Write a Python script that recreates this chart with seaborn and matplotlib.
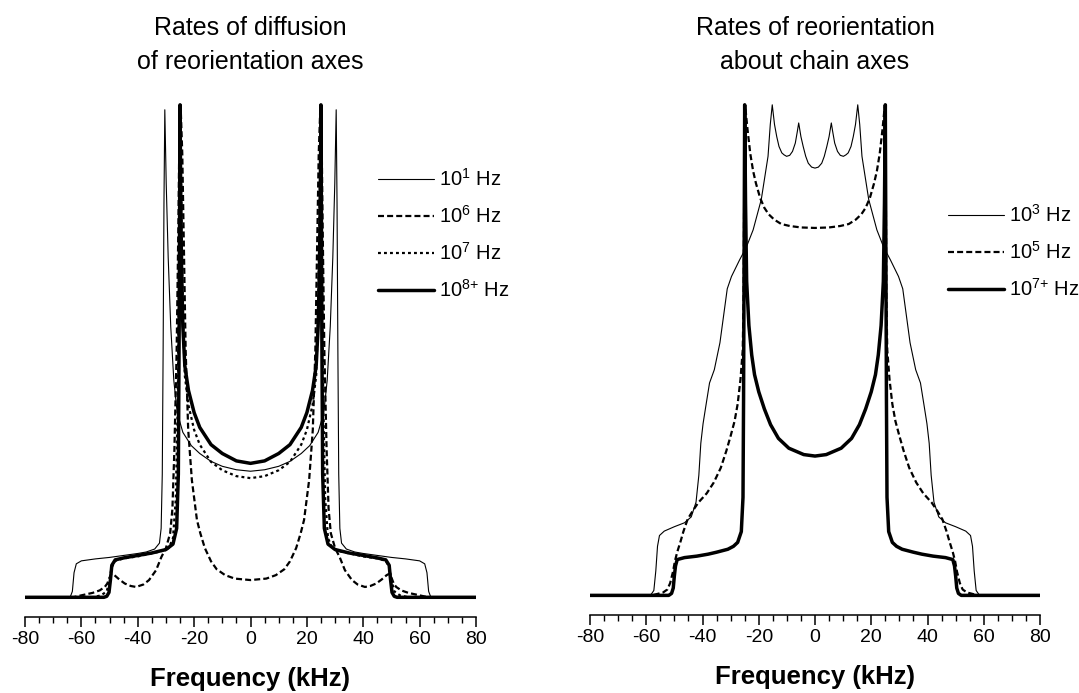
import numpy as np
import pandas as pd
import matplotlib
matplotlib.use('Agg')
import matplotlib.pyplot as plt
from matplotlib.ticker import MultipleLocator
import seaborn as sns

# values; spectra are symmetric, so only the +kHz half is listed
# left panel: diffusion of reorientation axes
diff_freq_1 = [0, 5, 10, 14, 18, 21, 24, 26, 27.2, 28.3, 29.2, 29.9, 30.4, 30.7, 31.0, 31.3, 31.7, 32.3, 34, 37, 40, 45, 50, 55, 60, 61.8, 62.6, 63.2, 64, 80]
diff_int_1 = [0.256, 0.259, 0.266, 0.276, 0.292, 0.308, 0.335, 0.375, 0.44, 0.55, 0.69, 0.84, 0.99, 0.8, 0.5, 0.25, 0.14, 0.11, 0.098, 0.092, 0.089, 0.085, 0.081, 0.078, 0.074, 0.068, 0.05, 0.012, 0.0, 0.0]

diff_freq_6 = [0, 5.6, 9, 12, 14, 16.2, 17.8, 19, 20.8, 22.1, 23, 23.6, 24.2, 24.8, 25.2, 25.6, 26.2, 27, 27.7, 28.5, 30, 31.6, 33.5, 36, 38, 40.6, 42.5, 44.6, 46.5, 48.3, 49.3, 50, 50.8, 51.7, 53.5, 56, 60, 63, 80]
diff_int_6 = [0.035, 0.038, 0.045, 0.057, 0.073, 0.10, 0.13, 0.157, 0.238, 0.34, 0.5, 0.7, 0.9, 1.0, 0.95, 0.75, 0.5, 0.3, 0.18, 0.13, 0.10, 0.082, 0.055, 0.035, 0.026, 0.021, 0.023, 0.028, 0.036, 0.045, 0.048, 0.04, 0.028, 0.021, 0.014, 0.009, 0.004, 0.0, 0.0]

diff_freq_7 = [0, 5, 10, 14, 18, 20, 22, 23.3, 24.0, 24.5, 24.9, 25.3, 25.8, 26.5, 27.5, 29, 32, 36, 40, 45, 48, 49.3, 50, 51, 53, 56, 80]
diff_int_7 = [0.242, 0.246, 0.258, 0.275, 0.31, 0.34, 0.39, 0.45, 0.57, 0.78, 0.96, 0.7, 0.4, 0.2, 0.12, 0.1, 0.093, 0.088, 0.083, 0.079, 0.074, 0.06, 0.035, 0.012, 0.004, 0.0, 0.0]

diff_freq_8 = [0, 5, 10, 14, 18, 20, 22, 23.3, 24.0, 24.5, 24.8, 25.0, 25.3, 25.6, 26.2, 27.5, 30, 35, 40, 45, 48, 49.2, 49.7, 50.2, 51, 52, 80]
diff_int_8 = [0.272, 0.277, 0.292, 0.31, 0.345, 0.375, 0.42, 0.47, 0.55, 0.68, 0.85, 1.0, 0.55, 0.25, 0.14, 0.108, 0.097, 0.09, 0.085, 0.08, 0.076, 0.065, 0.035, 0.01, 0.002, 0.0, 0.0]

# right panel: reorientation about chain axes
chain_freq_3 = [0, 1.2, 2.4, 3.3, 4.2, 5.0, 5.8, 6.3, 7, 8, 9, 10.1, 11, 11.8, 12.8, 13.6, 14.4, 15.2, 15.9, 16.7, 19.1, 22, 24.4, 26.8, 29.7, 31.2, 32.5, 33.8, 35.8, 37.5, 38.7, 39.8, 40.6, 41.3, 42.3, 44, 46.4, 50, 53.6, 55.3, 56, 56.6, 57.3, 58.5, 80]
chain_int_3 = [0.871, 0.873, 0.881, 0.895, 0.915, 0.935, 0.963, 0.945, 0.922, 0.905, 0.897, 0.895, 0.898, 0.902, 0.915, 0.935, 0.96, 1.0, 0.96, 0.895, 0.807, 0.745, 0.71, 0.684, 0.65, 0.625, 0.57, 0.515, 0.46, 0.433, 0.39, 0.35, 0.31, 0.245, 0.19, 0.16, 0.148, 0.14, 0.131, 0.122, 0.1, 0.05, 0.01, 0.0, 0.0]

chain_freq_5 = [0, 5, 9, 12, 14.5, 16.5, 18, 19.5, 21, 22, 23, 24, 24.6, 25, 25.2, 25.4, 25.7, 26.5, 27.5, 28.6, 30, 31.5, 33.5, 36, 38.5, 41.5, 43.5, 45.3, 46.8, 47.8, 49, 49.8, 50.5, 51.5, 52.5, 54, 56, 58, 80]
chain_int_5 = [0.749, 0.75, 0.753, 0.757, 0.766, 0.777, 0.79, 0.81, 0.84, 0.865, 0.9, 0.95, 0.985, 1.0, 0.8, 0.6, 0.5, 0.44, 0.39, 0.355, 0.325, 0.295, 0.26, 0.23, 0.208, 0.189, 0.172, 0.155, 0.13, 0.11, 0.088, 0.07, 0.048, 0.025, 0.012, 0.006, 0.003, 0.0, 0.0]

chain_freq_7 = [0, 4, 9.3, 13, 15.8, 18, 20, 21.5, 22.5, 23.5, 24.3, 24.7, 25, 25.2, 25.4, 25.6, 26.2, 27.5, 29, 31, 35, 38, 42, 46.4, 49, 49.6, 50, 50.4, 51, 52, 80]
chain_int_7 = [0.284, 0.287, 0.30, 0.32, 0.348, 0.38, 0.415, 0.45, 0.49, 0.55, 0.64, 0.8, 1.0, 0.7, 0.4, 0.2, 0.13, 0.108, 0.1, 0.094, 0.088, 0.084, 0.08, 0.077, 0.073, 0.06, 0.04, 0.015, 0.004, 0.0, 0.0]

diff_labels = [r'$10^{1}$ Hz', r'$10^{6}$ Hz', r'$10^{7}$ Hz', r'$10^{8{+}}$ Hz']
chain_labels = [r'$10^{3}$ Hz', r'$10^{5}$ Hz', r'$10^{7{+}}$ Hz']


def mirror(freq, inten):
    f = np.asarray(freq, float)
    i = np.asarray(inten, float)
    return pd.DataFrame({'freq': np.concatenate([-f[:0:-1], f]),
                         'inten': np.concatenate([i[:0:-1], i])})


sns.set_theme(style='ticks', rc={'axes.edgecolor': 'black', 'xtick.color': 'black',
                                 'text.color': 'black', 'axes.labelcolor': 'black'})
plt.rcParams['font.family'] = ['Liberation Sans', 'DejaVu Sans']
plt.rcParams['mathtext.default'] = 'regular'
plt.rcParams['axes.unicode_minus'] = False

thin = dict(color='black', lw=0.8, linestyle='-')
dash = dict(color='black', lw=1.6, linestyle=(0, (2.7, 1.4)))
dots = dict(color='black', lw=1.6, linestyle=(0, (1.3, 1.4)))
thick = dict(color='black', lw=2.5, linestyle='-')

fig = plt.figure(figsize=(10.79, 6.93), dpi=100)
ax1 = fig.add_axes([25 / 1079, 76 / 693, 451 / 1079, 522 / 693])
ax2 = fig.add_axes([590 / 1079, 78 / 693, 450 / 1079, 520 / 693])

left_sets = [(diff_freq_1, diff_int_1, thin), (diff_freq_6, diff_int_6, dash),
             (diff_freq_7, diff_int_7, dots), (diff_freq_8, diff_int_8, thick)]
for (f, i, st), lab in zip(left_sets, diff_labels):
    sns.lineplot(data=mirror(f, i), x='freq', y='inten', ax=ax1, label=lab,
                 sort=False, estimator=None, **st)

right_sets = [(chain_freq_3, chain_int_3, thin), (chain_freq_5, chain_int_5, dash),
              (chain_freq_7, chain_int_7, thick)]
for (f, i, st), lab in zip(right_sets, chain_labels):
    sns.lineplot(data=mirror(f, i), x='freq', y='inten', ax=ax2, label=lab,
                 sort=False, estimator=None, **st)

titles = ['Rates of diffusion\nof reorientation axes', 'Rates of reorientation\nabout chain axes']
legend_pos = [(0.783, 0.86), (0.796, 0.791)]
for ax, ttl, pos in zip([ax1, ax2], titles, legend_pos):
    ax.set_xlim(-80, 80)
    ax.set_ylim(-0.04, 1.02)
    ax.set_yticks([])
    ax.set_ylabel('')
    for s in ['left', 'right', 'top']:
        ax.spines[s].set_visible(False)
    ax.spines['bottom'].set_linewidth(1.1)
    ax.xaxis.set_major_locator(MultipleLocator(20))
    ax.xaxis.set_minor_locator(MultipleLocator(5))
    ax.tick_params(axis='x', which='major', length=7, width=1.1, labelsize=14, pad=3)
    ax.tick_params(axis='x', which='minor', length=4, width=1.0)
    ax.set_xlabel('Frequency (kHz)', fontsize=18.5, fontweight='bold', labelpad=14)
    ax.set_title(ttl, fontsize=18, linespacing=1.55, pad=18.5)
    ax.legend(loc='upper left', bbox_to_anchor=pos, frameon=False, fontsize=14.5,
              handlelength=2.75, handletextpad=0.28, labelspacing=0.75,
              borderpad=0, borderaxespad=0)

fig.savefig('out.png', dpi=100)
